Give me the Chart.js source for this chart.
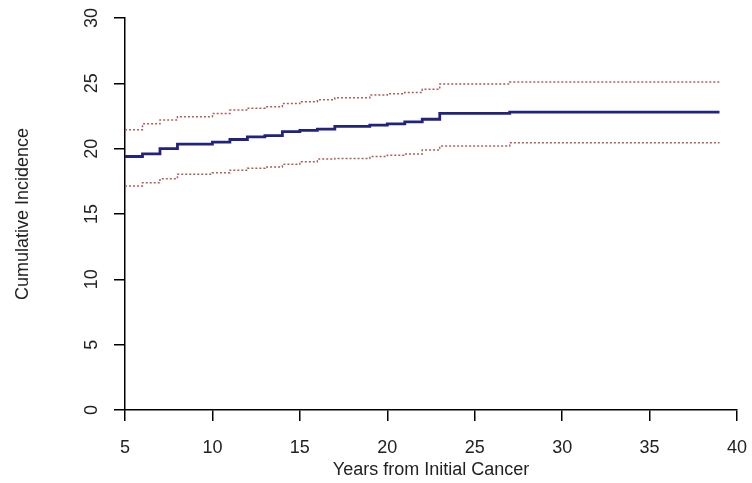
<!DOCTYPE html>
<html>
<head>
<meta charset="utf-8">
<script src="https://cdn.jsdelivr.net/npm/chart.js@4/dist/chart.umd.min.js"></script>
<style>
  body { margin: 0; background: #fff; }
  canvas { display: block; }
</style>
</head>
<body>
<canvas id="incidenceChart" width="752" height="483"></canvas>
<script>
// step times (years) and cumulative incidence (%)
const stepYears = [5, 6, 7, 8, 10, 11, 12, 13, 14, 15, 16, 17, 19, 20, 21, 22, 23, 27, 39];
const incidence = [19.4, 19.6, 20.0, 20.35, 20.5, 20.7, 20.9, 21.0, 21.3, 21.4, 21.5, 21.7, 21.8, 21.9, 22.05, 22.25, 22.7, 22.8, 22.8];
const upperCI = [21.45, 21.9, 22.2, 22.45, 22.7, 22.95, 23.1, 23.2, 23.45, 23.6, 23.75, 23.9, 24.1, 24.2, 24.3, 24.55, 24.95, 25.1, 25.1];
const lowerCI = [17.15, 17.4, 17.7, 18.05, 18.15, 18.35, 18.5, 18.6, 18.8, 19.0, 19.2, 19.25, 19.4, 19.5, 19.6, 19.9, 20.2, 20.45, 20.45];

function toPoints(ys) {
    return stepYears.map(function (x, i) { return { x: x, y: ys[i] }; });
}

var font = { family: '"Liberation Sans", Arial, sans-serif', size: 18 };
var ctx = document.getElementById('incidenceChart').getContext('2d');
new Chart(ctx, {
    type: 'line',
    data: {
        datasets: [{
            label: 'Upper CI',
            data: toPoints(upperCI),
            borderColor: '#a8605f',
            borderWidth: 1.5,
            borderDash: [2, 2],
            stepped: true,
            pointRadius: 0
        }, {
            label: 'Cumulative Incidence',
            data: toPoints(incidence),
            borderColor: '#22237e',
            borderWidth: 2.8,
            stepped: true,
            pointRadius: 0
        }, {
            label: 'Lower CI',
            data: toPoints(lowerCI),
            borderColor: '#a8605f',
            borderWidth: 1.5,
            borderDash: [2, 2],
            stepped: true,
            pointRadius: 0
        }]
    },
    options: {
        responsive: false,
        animation: false,
        layout: { padding: { top: 18, right: 15, left: 0, bottom: 0 } },
        plugins: {
            legend: { display: false },
            tooltip: { enabled: false }
        },
        scales: {
            x: {
                type: 'linear',
                min: 5,
                max: 40,
                afterFit: function (s) {
                    s.height = 73;
                    s.paddingLeft = 0;
                    s.paddingRight = 0;
                },
                ticks: { stepSize: 5, color: '#222', font: font, padding: 16, maxRotation: 0 },
                grid: { drawOnChartArea: false, color: '#000', lineWidth: 1.5, tickLength: 11 },
                border: { color: '#000', width: 1.5 },
                title: {
                    display: true,
                    text: 'Years from Initial Cancer',
                    color: '#222',
                    font: font,
                    padding: { top: 0, bottom: 2 }
                }
            },
            y: {
                min: 0,
                max: 30,
                afterFit: function (s) {
                    s.width = 125;
                    s.paddingTop = 0;
                    s.paddingBottom = 0;
                },
                ticks: { stepSize: 5, color: '#222', font: font, padding: 12, minRotation: 90, crossAlign: 'center' },
                grid: { drawOnChartArea: false, color: '#000', lineWidth: 1.5, tickLength: 11 },
                border: { color: '#000', width: 1.5 },
                title: {
                    display: true,
                    text: 'Cumulative Incidence',
                    color: '#222',
                    font: font,
                    padding: { top: 12, bottom: 0 }
                }
            }
        }
    }
});
</script>
</body>
</html>
